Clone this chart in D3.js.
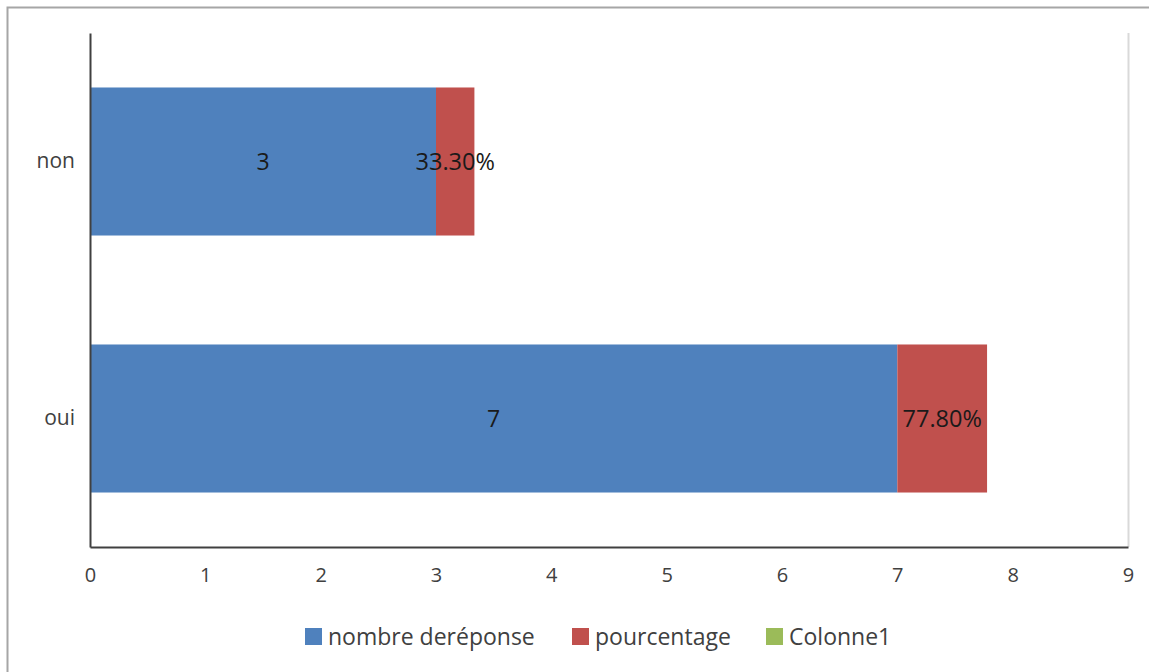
<!DOCTYPE html>
<html>
<head>
<meta charset="utf-8">
<script src="https://cdn.jsdelivr.net/npm/d3@7"></script>
<style>
body { margin: 0; background: #fff; }
text { font-family: "Open Sans", Lato, sans-serif; }
</style>
</head>
<body>
<script>
var categories = ["non", "oui"]
var reponses = [3, 7]
var pourcentages = [0.333, 0.778]
var pourcentageLabels = ["33.30%", "77.80%"]
var colonne1 = [null, null]
var xTicks = [0, 1, 2, 3, 4, 5, 6, 7, 8, 9]
var seriesNames = ["nombre deréponse", "pourcentage", "Colonne1"]
var colors = ["#4f81bd", "#c0504d", "#9bbb59"]

var width = 1149, height = 672

var svg = d3.select("body")
	.append("svg")
	.attr("width", width)
	.attr("height", height);

// outer chart frame
svg.append("rect")
	.attr("x", 7.5)
	.attr("y", 7.5)
	.attr("width", 1160)
	.attr("height", 700)
	.attr("fill", "none")
	.attr("stroke", "#a6a6a6")
	.attr("stroke-width", 2);

var x = d3.scaleLinear().domain([0, 9]).range([90, 1128])
var y = d3.scaleBand().domain(categories).range([33, 547]).paddingInner(0.424).paddingOuter(0.212)

// light right edge of plot area
svg.append("line")
	.attr("x1", 1128.5).attr("x2", 1128.5)
	.attr("y1", 33).attr("y2", 547)
	.attr("stroke", "#d9d9d9")
	.attr("stroke-width", 2);

var rows = categories.map(function(c, i) {
	return {cat: c, n: reponses[i], p: pourcentages[i], pl: pourcentageLabels[i]}
})

svg.selectAll(".bar-n")
	.data(rows)
	.enter()
	.append("rect")
	.attr("class", "bar-n")
	.attr("x", x(0))
	.attr("y", function(d) { return y(d.cat) })
	.attr("width", function(d) { return x(d.n) - x(0) })
	.attr("height", y.bandwidth())
	.attr("fill", colors[0]);

svg.selectAll(".bar-p")
	.data(rows)
	.enter()
	.append("rect")
	.attr("class", "bar-p")
	.attr("x", function(d) { return x(d.n) })
	.attr("y", function(d) { return y(d.cat) })
	.attr("width", function(d) { return x(d.n + d.p) - x(d.n) })
	.attr("height", y.bandwidth())
	.attr("fill", colors[1]);

// value labels
svg.selectAll(".lab-n")
	.data(rows)
	.enter()
	.append("text")
	.attr("x", function(d) { return (x(0) + x(d.n)) / 2 })
	.attr("y", function(d) { return y(d.cat) + y.bandwidth() / 2 })
	.attr("dy", "0.35em")
	.attr("text-anchor", "middle")
	.attr("font-size", 23)
	.attr("fill", "#1a1a1a")
	.text(function(d) { return d.n });

svg.selectAll(".lab-p")
	.data(rows)
	.enter()
	.append("text")
	.attr("x", function(d) { return (x(d.n) + x(d.n + d.p)) / 2 })
	.attr("y", function(d) { return y(d.cat) + y.bandwidth() / 2 })
	.attr("dy", "0.35em")
	.attr("text-anchor", "middle")
	.attr("font-size", 23.5)
	.attr("fill", "#1a1a1a")
	.text(function(d) { return d.pl });

// axes
var xAxis = svg.append("g")
	.attr("transform", "translate(0,547)")
	.call(d3.axisBottom(x).tickValues(xTicks).tickSize(0).tickPadding(21).tickFormat(d3.format("d")))
xAxis.select(".domain").attr("stroke", "#404040").attr("stroke-width", 2)
xAxis.selectAll("text").attr("font-size", 20).attr("fill", "#404040").attr("font-family", "'Open Sans', sans-serif")

var yAxis = svg.append("g")
	.attr("transform", "translate(90,0)")
	.call(d3.axisLeft(y).tickSize(0).tickPadding(15))
yAxis.select(".domain").attr("stroke", "#404040").attr("stroke-width", 2)
yAxis.selectAll("text").attr("font-size", 21).attr("fill", "#404040").attr("font-family", "'Open Sans', sans-serif")

// legend
var legendX = [305, 572, 766]
var legend = svg.selectAll(".legend")
	.data(seriesNames)
	.enter()
	.append("g")
	.attr("class", "legend")
	.attr("transform", function(d, i) { return "translate(" + legendX[i] + ",628)" });

legend.append("rect")
	.attr("width", 17)
	.attr("height", 17)
	.attr("fill", function(d, i) { return colors[i] });

legend.append("text")
	.attr("x", 23)
	.attr("y", 9)
	.attr("dy", "0.35em")
	.attr("font-size", 23)
	.attr("fill", "#404040")
	.text(function(d) { return d });
</script>
</body>
</html>
